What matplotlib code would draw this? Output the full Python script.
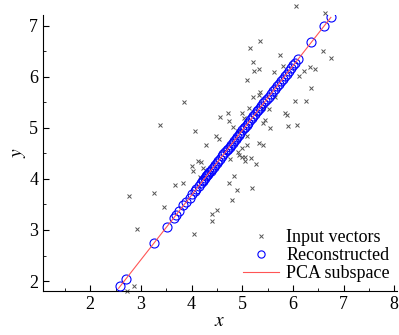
import matplotlib
matplotlib.use("Agg")
import matplotlib.pyplot as plt
from matplotlib.ticker import MultipleLocator

plt.rcParams['font.family'] = ['Liberation Serif', 'DejaVu Serif']
plt.rcParams['mathtext.fontset'] = 'stix'

# input vectors (gray crosses)
input_x = [6.06, 6.64, 5.35, 5.16, 6.59, 6.75, 5.75, 5.22, 5.80, 5.24, 5.34, 5.62,
           6.33, 6.44, 6.21, 6.12, 5.09, 6.36, 5.35, 5.34, 5.22, 5.65, 5.52, 5.42,
           6.04, 6.26, 5.14, 5.84, 5.89, 4.56, 4.72, 4.73, 5.00, 5.03, 5.44, 5.42,
           4.81, 4.91, 5.54, 5.91, 6.08, 4.49, 4.55, 5.10, 4.29, 5.09, 5.33, 5.41,
           5.00, 4.91, 4.94, 4.99, 5.06, 5.17, 5.06, 5.27, 4.23, 4.76, 4.19, 3.85,
           3.37, 4.07, 4.01, 4.12, 4.02, 2.77, 3.26, 3.68, 3.83, 3.46, 2.92, 4.04,
           4.40, 4.51, 4.40, 4.17, 4.83, 4.74, 4.89, 5.19, 4.79, 2.87, 2.72]
input_y = [7.39, 7.24, 6.70, 6.56, 6.50, 6.36, 6.42, 6.28, 6.21, 6.12, 6.15, 6.10,
           6.19, 6.15, 6.12, 6.02, 5.93, 5.77, 5.70, 5.64, 5.61, 5.60, 5.37, 5.38,
           5.53, 5.53, 5.38, 5.29, 5.25, 5.21, 5.29, 5.13, 5.28, 5.20, 5.15, 5.09,
           5.02, 4.94, 4.99, 5.03, 5.05, 4.84, 4.79, 4.84, 4.66, 4.67, 4.71, 4.67,
           4.60, 4.53, 4.47, 4.43, 4.43, 4.41, 4.35, 4.29, 4.21, 4.38, 4.33, 5.51,
           5.05, 4.94, 4.26, 4.35, 4.15, 3.66, 3.72, 3.88, 3.92, 3.45, 3.01, 2.92,
           3.32, 3.40, 3.18, 4.04, 4.06, 3.91, 3.79, 3.83, 3.58, 1.91, 1.80]

# reconstructed points (blue circles on the subspace)
recon_x = [2.59, 2.70, 3.26, 3.51, 3.65, 3.70, 3.76, 3.84, 3.89, 3.96, 4.01, 4.06,
           4.09, 4.15, 4.19, 4.22, 4.23, 4.26, 4.29, 4.31, 4.33, 4.35, 4.38, 4.41,
           4.44, 4.47, 4.50, 4.53, 4.56, 4.60, 4.63, 4.66, 4.69, 4.72, 4.75, 4.78,
           4.81, 4.84, 4.87, 4.90, 4.93, 4.96, 5.00, 5.03, 5.06, 5.09, 5.12, 5.16,
           5.19, 5.22, 5.25, 5.29, 5.32, 5.35, 5.38, 5.42, 5.45, 5.48, 5.52, 5.56,
           5.60, 5.64, 5.68, 5.72, 5.76, 5.80, 5.84, 5.88, 5.92, 5.96, 6.00, 6.04,
           6.11, 6.36, 6.62, 6.75]
recon_y = [1.90, 2.04, 2.75, 3.06, 3.24, 3.30, 3.38, 3.48, 3.54, 3.63, 3.70, 3.76,
           3.80, 3.87, 3.92, 3.96, 3.97, 4.01, 4.05, 4.08, 4.10, 4.13, 4.16, 4.20,
           4.24, 4.28, 4.32, 4.35, 4.39, 4.44, 4.48, 4.52, 4.56, 4.59, 4.63, 4.67,
           4.71, 4.75, 4.78, 4.82, 4.86, 4.90, 4.95, 4.99, 5.02, 5.06, 5.10, 5.15,
           5.19, 5.23, 5.27, 5.32, 5.35, 5.39, 5.43, 5.48, 5.52, 5.56, 5.61, 5.66,
           5.71, 5.76, 5.81, 5.86, 5.91, 5.96, 6.01, 6.06, 6.11, 6.16, 6.22, 6.27,
           6.35, 6.67, 7.00, 7.16]

# PCA subspace segment
line_x = [2.56, 6.75]
line_y = [1.86, 7.16]

fig = plt.figure(figsize=(3.99, 3.35), dpi=100)
ax = fig.add_axes([0.108, 0.131, 0.887, 0.824])

ax.plot(input_x, input_y, 'x', color='#555555', markersize=3.2, markeredgewidth=0.7,
        label='Input vectors', clip_on=False, zorder=2)
ax.plot(recon_x, recon_y, 'o', markerfacecolor='none', markeredgecolor='#0000ff',
        markersize=6.5, markeredgewidth=0.8, label='Reconstructed', zorder=3)
ax.plot(line_x, line_y, '-', color='#ff5555', linewidth=0.8, label='PCA subspace', zorder=4)

ax.set_xlim(1.07, 8.055)
ax.set_ylim(1.804, 7.205)
ax.xaxis.set_minor_locator(MultipleLocator(0.5))
ax.yaxis.set_minor_locator(MultipleLocator(0.5))
ax.set_xticks([2, 3, 4, 5, 6, 7, 8])
ax.set_yticks([2, 3, 4, 5, 6, 7])
ax.tick_params(which='both', direction='in', labelsize=13)
ax.tick_params(which='major', length=4, width=0.8)
ax.tick_params(which='minor', length=2.5, width=0.6)
ax.spines['top'].set_visible(False)
ax.spines['right'].set_visible(False)

ax.set_xlabel('$x$', fontsize=14, labelpad=0)
ax.set_ylabel('$y$', fontsize=14, labelpad=1)

ax.legend(loc='lower right', frameon=False, fontsize=13, handlelength=2.0,
          handletextpad=0.4, labelspacing=0.05, borderaxespad=0.1,
          bbox_to_anchor=(1.005, 0.0), markerscale=0.8)

fig.savefig('out.png', dpi=100)
